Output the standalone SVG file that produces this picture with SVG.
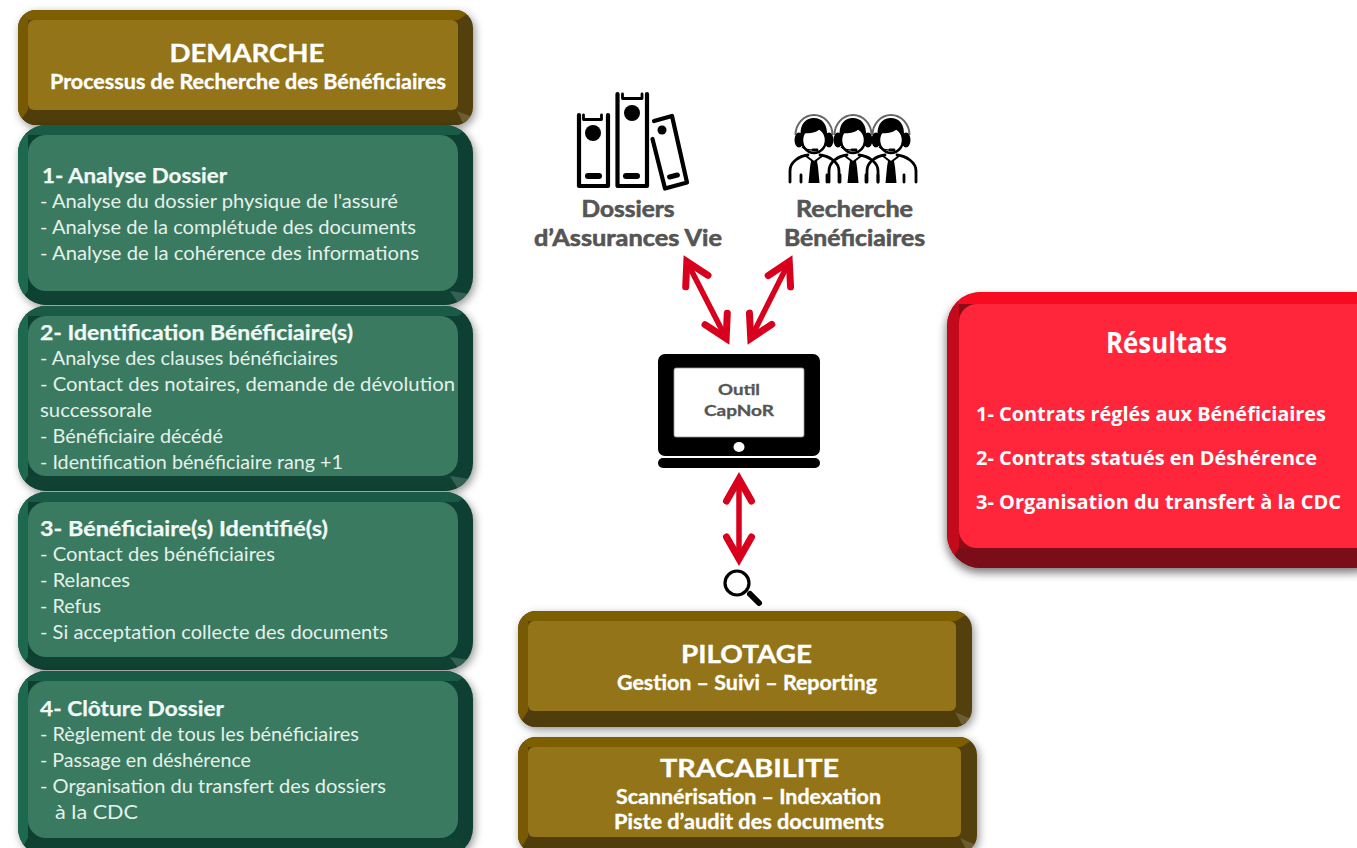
<svg xmlns="http://www.w3.org/2000/svg" width="1357" height="848" viewBox="0 0 1357 848">
<style>
text{font-family:Lato,"Open Sans","Liberation Sans",sans-serif;}
.w{fill:#fff;font-weight:700;stroke:#fff;stroke-width:.35px;}
.h{font-size:24px;text-anchor:middle;}
.s{font-size:20px;}
.g{fill:#e4f1ea;font-size:20px;}
.t{fill:#f2f8f5;font-size:20px;font-weight:700;stroke:#f2f8f5;stroke-width:.25px;}
.d{fill:#555;font-weight:700;font-size:22px;stroke:#555;stroke-width:.6px;}
.o{fill:#555;font-weight:700;font-size:15px;stroke:#555;stroke-width:.3px;text-anchor:middle;}
.r{fill:#fff;font-family:"Open Sans","Liberation Sans",sans-serif;font-weight:700;font-size:20px;}
.gold .b{fill:#523f0a}.gold .t1{fill:#7d5e00}.gold .l1{fill:#785a04}.gold .b1{fill:#4f3d0b}.gold .f{fill:#937419}
.green .b{fill:#0e3f30}.green .t1{fill:#1a5b46}.green .l1{fill:#1c6950}.green .b1{fill:#0f4232}.green .f{fill:#3a7a60}
.red .b{fill:#8a0c16}.red .t1{fill:#f80a20}.red .l1{fill:#c20a1a}.red .b1{fill:#7a0d17}.red .f{fill:#ff253a}
.hl{fill:#fff;opacity:.16}
.ink{fill:none;stroke:#000;stroke-width:4.200;stroke-linejoin:round;stroke-linecap:round}
.u{fill:none;stroke:#000;stroke-width:2.800;stroke-linecap:round;stroke-linejoin:round}
.arrow{stroke:#d8001c;stroke-width:5.500;fill:none;marker-start:url(#chev);marker-end:url(#chev)}
</style>
<defs>
<filter id="sh" x="-10%" y="-10%" width="120%" height="125%"><feDropShadow dx="2" dy="3" stdDeviation="4" flood-color="#000" flood-opacity=".42"/></filter>
<filter id="sh2" x="-10%" y="-10%" width="120%" height="125%"><feDropShadow dx="-1" dy="5" stdDeviation="4.500" flood-color="#000" flood-opacity=".5"/></filter>
<marker id="chev" markerUnits="userSpaceOnUse" markerWidth="40" markerHeight="40" viewBox="-30 -20 40 40" refX="0" refY="0" orient="auto-start-reverse" overflow="visible">
<polyline points="-21,-12.5 1,0 -21,12.5" fill="none" stroke="#d8001c" stroke-width="7" stroke-linecap="round" stroke-linejoin="miter" stroke-miterlimit="6"/>
</marker>
<clipPath id="c0"><rect x="18" y="10" width="455" height="115" rx="18"/></clipPath>
<clipPath id="c1"><rect x="18" y="125" width="455" height="180" rx="28"/></clipPath>
<clipPath id="c2"><rect x="18" y="306" width="455" height="185" rx="28"/></clipPath>
<clipPath id="c3"><rect x="18" y="492" width="455" height="178" rx="28"/></clipPath>
<clipPath id="c4"><rect x="18" y="671" width="455" height="185" rx="28"/></clipPath>
<clipPath id="c5"><rect x="518" y="611" width="454" height="116" rx="18"/></clipPath>
<clipPath id="c6"><rect x="518" y="737" width="459" height="116" rx="18"/></clipPath>
<clipPath id="c7"><rect x="947" y="292" width="440" height="276" rx="34"/></clipPath>
<g id="agent">
<path d="M-18.500,-3 A18.500,20 0 0 1 18.500,-3" fill="none" stroke="#666" stroke-width="2"/>
<ellipse cx="-15" cy="2" rx="4.500" ry="7.500" fill="#000"/>
<ellipse cx="15" cy="2" rx="4.500" ry="7.500" fill="#000"/>
<ellipse cx="0" cy="2" rx="12" ry="13" fill="#fff" stroke="#000" stroke-width="2.500"/>
<path d="M-13,-1 C-15,-15 -7,-20 0,-20 C8,-20 14,-14 13,-1 C11,-5 8,-8 6,-9 C2,-5 -6,-4 -11,-5Z" fill="#000"/>
<path d="M-12,9 Q-8,12 0,12" fill="none" stroke="#000" stroke-width="1.500"/>
<path d="M-1,12 H3" stroke="#000" stroke-width="2.800" stroke-linecap="round"/>
<path d="M-24,44 V33 C-24,24 -15,18 -6,17 M6,17 C15,18 25,24 25,33 V44" fill="none" stroke="#000" stroke-width="2.800" stroke-linecap="round"/>
<path d="M-13,44 V37 M13,44 V37" fill="none" stroke="#000" stroke-width="2.800" stroke-linecap="round"/>
<path d="M-8,18 L0,24 L8,18" fill="none" stroke="#000" stroke-width="1.800"/>
<path d="M-3,23 H3 L4,29 L5.500,45 H-5.500 L-4,29Z" fill="#000"/>
</g>
</defs>
<rect width="1357" height="848" fill="#fff"/>

<g id="connectors">
<line class="arrow" x1="687.3" y1="262.4" x2="725.7" y2="337.6"/>
<line class="arrow" x1="788.8" y1="262.5" x2="751.2" y2="337.5"/>
<line class="arrow" x1="739" y1="480" x2="739" y2="558"/>
</g>

<g id="demarche" class="gold">
<rect class="b" x="18" y="10" width="455" height="115" rx="18" filter="url(#sh)"/>
<g clip-path="url(#c0)"><polygon class="l1" points="18,10 28,20 28,110 18,125"/><polygon class="t1" points="18,10 473,10 458,20 28,20"/><polygon class="b1" points="18,125 473,125 458,110 28,110"/><polygon class="hl" points="457,111 472,117 463,123"/></g>
<rect class="f" x="28" y="20" width="430" height="90" rx="6"/>
<text class="w h" x="247" y="62" textLength="155" lengthAdjust="spacingAndGlyphs">DEMARCHE</text>
<text class="w s" x="50" y="89" textLength="396" lengthAdjust="spacingAndGlyphs">Processus de Recherche des Bénéficiaires</text>
</g>

<g id="etape1" class="green">
<rect class="b" x="18" y="125" width="455" height="180" rx="28" filter="url(#sh)"/>
<g clip-path="url(#c1)"><polygon class="l1" points="18,125 28,135 28,291 18,305"/><polygon class="t1" points="18,125 473,125 458,135 28,135"/><polygon class="b1" points="18,305 473,305 458,291 28,291"/><polygon class="hl" points="450,291 470,294 458,303"/></g>
<rect class="f" x="28" y="135" width="430" height="156" rx="18"/>
<text class="t" x="42" y="183" textLength="185" lengthAdjust="spacingAndGlyphs">1- Analyse Dossier</text>
<text class="g" x="40" y="208" textLength="358" lengthAdjust="spacingAndGlyphs">- Analyse du dossier physique de l'assuré</text>
<text class="g" x="40" y="234" textLength="376" lengthAdjust="spacingAndGlyphs">- Analyse de la complétude des documents</text>
<text class="g" x="40" y="260" textLength="379" lengthAdjust="spacingAndGlyphs">- Analyse de la cohérence des informations</text>
</g>

<g id="etape2" class="green">
<rect class="b" x="18" y="306" width="455" height="185" rx="28" filter="url(#sh)"/>
<g clip-path="url(#c2)"><polygon class="l1" points="18,306 28,316 28,476 18,491"/><polygon class="t1" points="18,306 473,306 458,316 28,316"/><polygon class="b1" points="18,491 473,491 458,476 28,476"/><polygon class="hl" points="450,476 470,479 458,489"/></g>
<rect class="f" x="28" y="316" width="430" height="160" rx="18"/>
<text class="t" x="40" y="340" textLength="313" lengthAdjust="spacingAndGlyphs">2- Identification Bénéficiaire(s)</text>
<text class="g" x="40" y="365" textLength="298" lengthAdjust="spacingAndGlyphs">- Analyse des clauses bénéficiaires</text>
<text class="g" x="40" y="391" textLength="415" lengthAdjust="spacingAndGlyphs">- Contact des notaires, demande de dévolution</text>
<text class="g" x="40" y="417" textLength="112" lengthAdjust="spacingAndGlyphs">successorale</text>
<text class="g" x="40" y="443" textLength="183" lengthAdjust="spacingAndGlyphs">- Bénéficiaire décédé</text>
<text class="g" x="40" y="469" textLength="303" lengthAdjust="spacingAndGlyphs">- Identification bénéficiaire rang +1</text>
</g>

<g id="etape3" class="green">
<rect class="b" x="18" y="492" width="455" height="178" rx="28" filter="url(#sh)"/>
<g clip-path="url(#c3)"><polygon class="l1" points="18,492 28,502 28,657 18,670"/><polygon class="t1" points="18,492 473,492 458,502 28,502"/><polygon class="b1" points="18,670 473,670 458,657 28,657"/><polygon class="hl" points="450,657 470,660 458,668"/></g>
<rect class="f" x="28" y="502" width="430" height="155" rx="18"/>
<text class="t" x="40" y="536" textLength="288" lengthAdjust="spacingAndGlyphs">3- Bénéficiaire(s) Identifié(s)</text>
<text class="g" x="40" y="561" textLength="235" lengthAdjust="spacingAndGlyphs">- Contact des bénéficiaires</text>
<text class="g" x="40" y="587" textLength="90" lengthAdjust="spacingAndGlyphs">- Relances</text>
<text class="g" x="40" y="613" textLength="61" lengthAdjust="spacingAndGlyphs">- Refus</text>
<text class="g" x="40" y="639" textLength="348" lengthAdjust="spacingAndGlyphs">- Si acceptation collecte des documents</text>
</g>

<g id="etape4" class="green">
<rect class="b" x="18" y="671" width="455" height="185" rx="28" filter="url(#sh)"/>
<g clip-path="url(#c4)"><polygon class="l1" points="18,671 28,681 28,838 18,856"/><polygon class="t1" points="18,671 473,671 458,681 28,681"/><polygon class="b1" points="18,856 473,856 458,838 28,838"/></g>
<rect class="f" x="28" y="681" width="430" height="157" rx="18"/>
<text class="t" x="40" y="716" textLength="184" lengthAdjust="spacingAndGlyphs">4- Clôture Dossier</text>
<text class="g" x="40" y="741" textLength="319" lengthAdjust="spacingAndGlyphs">- Règlement de tous les bénéficiaires</text>
<text class="g" x="40" y="767" textLength="211" lengthAdjust="spacingAndGlyphs">- Passage en déshérence</text>
<text class="g" x="40" y="793" textLength="346" lengthAdjust="spacingAndGlyphs">- Organisation du transfert des dossiers</text>
<text class="g" x="55" y="819" textLength="83" lengthAdjust="spacingAndGlyphs">à la CDC</text>
</g>

<g id="dossiers">
<path class="ink" d="M579,115 V186 H608 V115"/>
<path class="u" d="M583.500,115 V119.500 H601.500 V115"/>
<circle cx="593" cy="133" r="8"/>
<rect x="585" y="173" width="17" height="6" rx="3"/>
<path class="ink" d="M617.500,94 V186 H647 V94"/>
<path class="u" d="M622.500,94 V98.500 H642 V94"/>
<circle cx="632" cy="113" r="8"/>
<rect x="623" y="173" width="17" height="6" rx="3"/>
<path class="ink" d="M652.500,139 L665,188.500 L687,182.500 L672,116 L654,121"/>
<circle cx="662" cy="130" r="4.500"/>
<rect x="667" y="173.500" width="13" height="5" rx="2.500" transform="rotate(-14 673.500 176)"/>
<text class="d" x="628" y="217" text-anchor="middle" textLength="93" lengthAdjust="spacingAndGlyphs">Dossiers</text>
<text class="d" x="628" y="246" text-anchor="middle" textLength="188" lengthAdjust="spacingAndGlyphs">d’Assurances Vie</text>
</g>

<g id="recherche">
<use href="#agent" x="814" y="138"/>
<use href="#agent" x="853" y="138"/>
<use href="#agent" x="891" y="138"/>
<text class="d" x="854.500" y="217" text-anchor="middle" textLength="117" lengthAdjust="spacingAndGlyphs">Recherche</text>
<text class="d" x="854.500" y="246" text-anchor="middle" textLength="141" lengthAdjust="spacingAndGlyphs">Bénéficiaires</text>
</g>

<g id="outil">
<rect x="658" y="354" width="162" height="102" rx="7" fill="#000"/>
<rect x="674" y="368" width="130" height="69" rx="2" fill="#fff" stroke="#999" stroke-width=".8"/>
<ellipse cx="739" cy="447" rx="5.500" ry="5" fill="#fff"/>
<rect x="658" y="458" width="162" height="10" rx="5" fill="#000"/>
<text class="o" x="739" y="395" textLength="42" lengthAdjust="spacingAndGlyphs">Outil</text>
<text class="o" x="739" y="416" textLength="70" lengthAdjust="spacingAndGlyphs">CapNoR</text>
</g>

<g id="loupe">
<circle cx="737" cy="583" r="12" fill="#fff" stroke="#000" stroke-width="3.200"/>
<line x1="750" y1="594" x2="759" y2="603" stroke="#000" stroke-width="6" stroke-linecap="round"/>
</g>

<g id="pilotage" class="gold">
<rect class="b" x="518" y="611" width="454" height="116" rx="18" filter="url(#sh)"/>
<g clip-path="url(#c5)"><polygon class="l1" points="518,611 528,621 528,711 518,727"/><polygon class="t1" points="518,611 972,611 956,621 528,621"/><polygon class="b1" points="518,727 972,727 956,711 528,711"/><polygon class="hl" points="955,712 971,719 962,725"/></g>
<rect class="f" x="528" y="621" width="428" height="90" rx="6"/>
<text class="w h" x="746.500" y="663" textLength="131" lengthAdjust="spacingAndGlyphs">PILOTAGE</text>
<text class="w s" x="617" y="690" textLength="260" lengthAdjust="spacingAndGlyphs">Gestion – Suivi – Reporting</text>
</g>

<g id="tracabilite" class="gold">
<rect class="b" x="518" y="737" width="459" height="116" rx="18" filter="url(#sh)"/>
<g clip-path="url(#c6)"><polygon class="l1" points="518,737 528,747 528,837 518,853"/><polygon class="t1" points="518,737 977,737 961,747 528,747"/><polygon class="b1" points="518,853 977,853 961,837 528,837"/><polygon class="hl" points="960,838 976,845 967,851"/></g>
<rect class="f" x="528" y="747" width="433" height="90" rx="6"/>
<text class="w h" x="749.500" y="777" textLength="179" lengthAdjust="spacingAndGlyphs">TRACABILITE</text>
<text class="w s" x="616" y="804" textLength="265" lengthAdjust="spacingAndGlyphs">Scannérisation – Indexation</text>
<text class="w s" x="614" y="829" textLength="270" lengthAdjust="spacingAndGlyphs">Piste d’audit des documents</text>
</g>

<g id="resultats" class="red">
<rect class="b" x="947" y="292" width="440" height="276" rx="34" filter="url(#sh2)"/>
<g clip-path="url(#c7)"><polygon class="l1" points="947,292 959,304 959,548 947,568"/><polygon class="t1" points="947,292 1387,292 1387,304 959,304"/><polygon class="b1" points="947,568 1387,568 1387,548 959,548"/></g>
<rect class="f" x="959" y="304" width="420" height="244" rx="18"/>
<text class="r" x="1106" y="353" style="font-size:28px" textLength="121" lengthAdjust="spacingAndGlyphs">Résultats</text>
<text class="r" x="976" y="421" textLength="350" lengthAdjust="spacingAndGlyphs">1- Contrats réglés aux Bénéficiaires</text>
<text class="r" x="976" y="465" textLength="341" lengthAdjust="spacingAndGlyphs">2- Contrats statués en Déshérence</text>
<text class="r" x="976" y="509" textLength="365" lengthAdjust="spacingAndGlyphs">3- Organisation du transfert à la CDC</text>
</g>
</svg>
